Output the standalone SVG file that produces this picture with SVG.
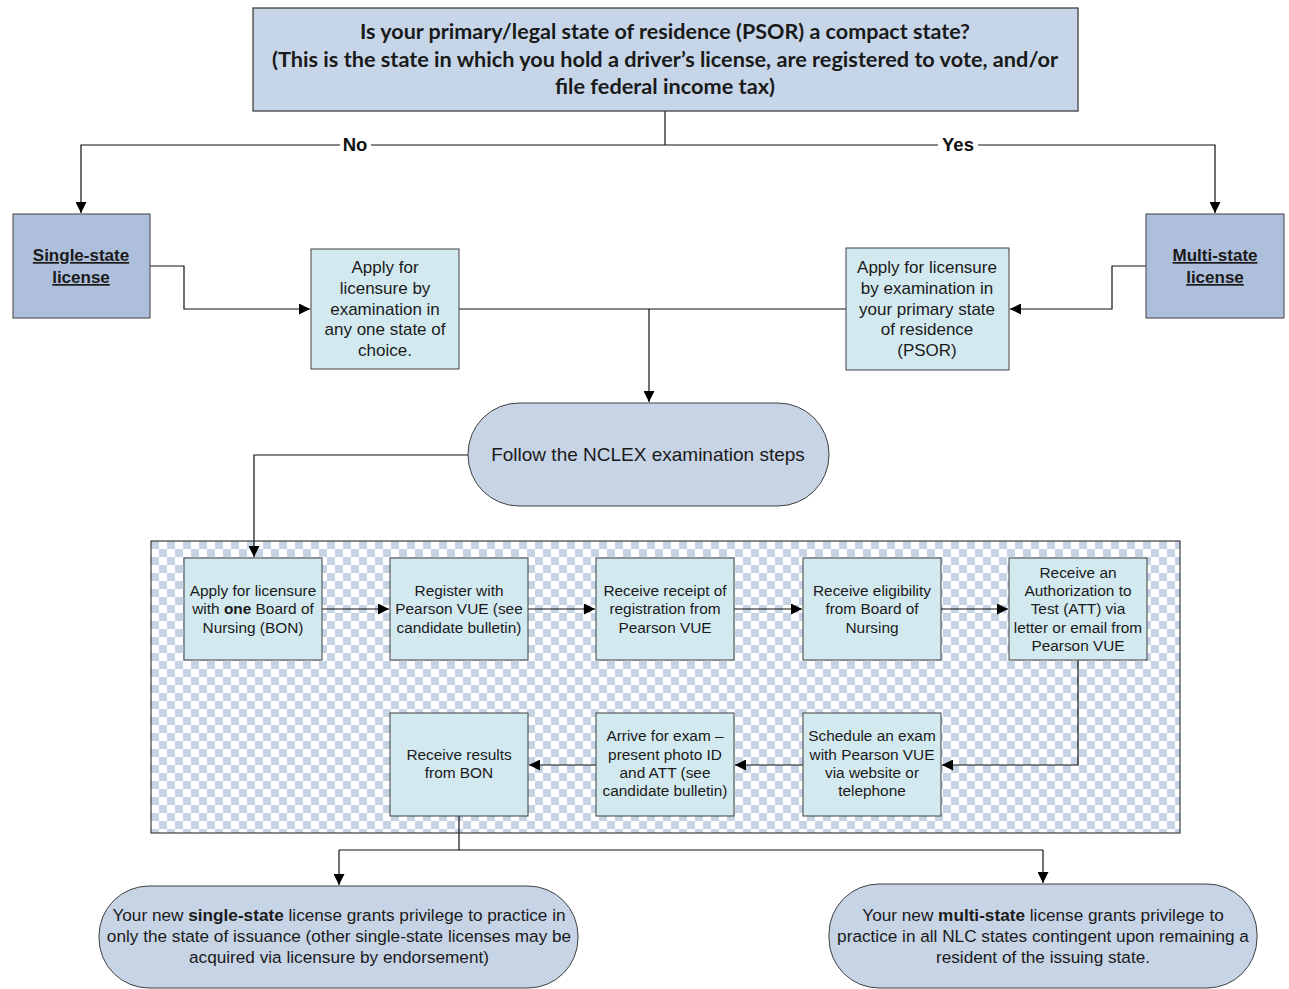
<svg xmlns="http://www.w3.org/2000/svg" width="1289" height="989" viewBox="0 0 1289 989">
<style>
.t{font-family:"Liberation Sans",Arial,sans-serif;fill:#1a1a1a;text-anchor:middle}
.s15{font-size:15.4px}
.s16{font-size:17px}
.hd{font-family:Lato,"Open Sans",sans-serif;font-weight:bold;font-size:21px;fill:#1a1a1a;text-anchor:middle}
.lab{font-family:"Liberation Sans",Arial,sans-serif;font-weight:bold;font-size:18.5px;fill:#111;text-anchor:middle}
.box{fill:#d3e9f0;stroke:#404040;stroke-width:1}
.dk{fill:#aebfdb;stroke:#404040;stroke-width:1}
.hdr{fill:#c6d6e8;stroke:#404040;stroke-width:1.3}
.st{fill:#c7d4e6;stroke:#404040;stroke-width:1}
.c{fill:none;stroke:#111;stroke-width:1.2}
.u{font-weight:bold;text-decoration:underline;font-size:17px}
</style>
<defs>
<marker id="a" viewBox="0 0 10 10" refX="10" refY="5" markerWidth="11" markerHeight="11" markerUnits="userSpaceOnUse" orient="auto">
<path d="M0,0 L10,5 L0,10 z" fill="#000"/>
</marker>
<pattern id="chk" width="16" height="16" patternUnits="userSpaceOnUse" x="151" y="541">
<rect width="16" height="16" fill="#ffffff"/>
<rect width="8" height="8" fill="#c6d3e4"/>
<rect x="8" y="8" width="8" height="8" fill="#c6d3e4"/>
</pattern>
</defs>
<rect width="1289" height="989" fill="#fff"/>
<rect id="panel" x="151" y="541" width="1029" height="292" fill="url(#chk)" stroke="#404040" stroke-width="1.2"/>

<g id="connectors">
<path class="c" d="M665,111 V145"/>
<path class="c" d="M340,145 H81 V213" marker-end="url(#a)"/>
<path class="c" d="M371,145 H938"/>
<path class="c" d="M978,145 H1215 V213" marker-end="url(#a)"/>
<path class="c" d="M150,266 H184 V309 H310" marker-end="url(#a)"/>
<path class="c" d="M1146,266 H1112 V309 H1010" marker-end="url(#a)"/>
<path class="c" d="M459,309 H846"/>
<path class="c" d="M649,309 V402" marker-end="url(#a)"/>
<path class="c" d="M468,455 H254 V557" marker-end="url(#a)"/>
<path class="c" d="M322,609 H389" marker-end="url(#a)"/>
<path class="c" d="M528,609 H595" marker-end="url(#a)"/>
<path class="c" d="M734,609 H802" marker-end="url(#a)"/>
<path class="c" d="M941,609 H1008" marker-end="url(#a)"/>
<path class="c" d="M1078,660 V765 H942" marker-end="url(#a)"/>
<path class="c" d="M803,765 H735" marker-end="url(#a)"/>
<path class="c" d="M596,765 H529" marker-end="url(#a)"/>
<path class="c" d="M459,816 V850"/>
<path class="c" d="M339,850 H1043"/>
<path class="c" d="M339,850 V885" marker-end="url(#a)"/>
<path class="c" d="M1043,850 V883" marker-end="url(#a)"/>
<text class="lab" x="355" y="151">No</text>
<text class="lab" x="958" y="151">Yes</text>
</g>

<g id="n-question">
<rect class="hdr" x="253" y="8" width="825" height="103"/>
<text class="hd" x="665" y="39" textLength="610" lengthAdjust="spacingAndGlyphs">Is your primary/legal state of residence (PSOR) a compact state?</text>
<text class="hd" x="665" y="67" textLength="786" lengthAdjust="spacingAndGlyphs">(This is the state in which you hold a driver’s license, are registered to vote, and/or</text>
<text class="hd" x="665" y="94" textLength="220" lengthAdjust="spacingAndGlyphs">file federal income tax)</text>
</g>

<g id="n-single">
<rect class="dk" x="13" y="214" width="137" height="104"/>
<text class="t u" x="81" y="261">Single-state</text>
<text class="t u" x="81" y="283">license</text>
</g>

<g id="n-multi">
<rect class="dk" x="1146" y="214" width="138" height="104"/>
<text class="t u" x="1215" y="261">Multi-state</text>
<text class="t u" x="1215" y="283">license</text>
</g>

<g id="n-apply-any">
<rect class="box" x="311" y="249" width="148" height="120"/>
<text class="t s16" x="385" y="273">Apply for</text>
<text class="t s16" x="385" y="294">licensure by</text>
<text class="t s16" x="385" y="315">examination in</text>
<text class="t s16" x="385" y="335">any one state of</text>
<text class="t s16" x="385" y="356">choice.</text>
</g>

<g id="n-apply-psor">
<rect class="box" x="846" y="248" width="163" height="122"/>
<text class="t s16" x="927" y="273">Apply for licensure</text>
<text class="t s16" x="927" y="294">by examination in</text>
<text class="t s16" x="927" y="315">your primary state</text>
<text class="t s16" x="927" y="335">of residence</text>
<text class="t s16" x="927" y="356">(PSOR)</text>
</g>

<g id="n-nclex">
<rect class="st" x="468" y="403" width="361" height="103" rx="51" ry="51"/>
<text class="t" x="648" y="461" font-size="19">Follow the NCLEX examination steps</text>
</g>

<g id="n-s1">
<rect class="box" x="184" y="558" width="138" height="102"/>
<text class="t s15" x="253" y="596">Apply for licensure</text>
<text class="t s15" x="253" y="614">with <tspan font-weight="bold">one</tspan> Board of</text>
<text class="t s15" x="253" y="633">Nursing (BON)</text>
</g>

<g id="n-s2">
<rect class="box" x="390" y="558" width="138" height="102"/>
<text class="t s15" x="459" y="596">Register with</text>
<text class="t s15" x="459" y="614">Pearson VUE (see</text>
<text class="t s15" x="459" y="633">candidate bulletin)</text>
</g>

<g id="n-s3">
<rect class="box" x="596" y="558" width="138" height="102"/>
<text class="t s15" x="665" y="596">Receive receipt of</text>
<text class="t s15" x="665" y="614">registration from</text>
<text class="t s15" x="665" y="633">Pearson VUE</text>
</g>

<g id="n-s4">
<rect class="box" x="803" y="558" width="138" height="102"/>
<text class="t s15" x="872" y="596">Receive eligibility</text>
<text class="t s15" x="872" y="614">from Board of</text>
<text class="t s15" x="872" y="633">Nursing</text>
</g>

<g id="n-s5">
<rect class="box" x="1009" y="558" width="138" height="102"/>
<text class="t s15" x="1078" y="578">Receive an</text>
<text class="t s15" x="1078" y="596">Authorization to</text>
<text class="t s15" x="1078" y="614">Test (ATT) via</text>
<text class="t s15" x="1078" y="633">letter or email from</text>
<text class="t s15" x="1078" y="651">Pearson VUE</text>
</g>

<g id="n-s6">
<rect class="box" x="803" y="713" width="138" height="103"/>
<text class="t s15" x="872" y="741">Schedule an exam</text>
<text class="t s15" x="872" y="760">with Pearson VUE</text>
<text class="t s15" x="872" y="778">via website or</text>
<text class="t s15" x="872" y="796">telephone</text>
</g>

<g id="n-s7">
<rect class="box" x="596" y="713" width="138" height="103"/>
<text class="t s15" x="665" y="741">Arrive for exam –</text>
<text class="t s15" x="665" y="760">present photo ID</text>
<text class="t s15" x="665" y="778">and ATT (see</text>
<text class="t s15" x="665" y="796">candidate bulletin)</text>
</g>

<g id="n-s8">
<rect class="box" x="390" y="713" width="138" height="103"/>
<text class="t s15" x="459" y="760">Receive results</text>
<text class="t s15" x="459" y="778">from BON</text>
</g>

<g id="n-single-result">
<rect class="st" x="99" y="886" width="479" height="102" rx="50" ry="50"/>
<text class="t" font-size="17.2" x="339" y="921">Your new <tspan font-weight="bold">single-state</tspan> license grants privilege to practice in</text>
<text class="t" font-size="17.2" x="339" y="942">only the state of issuance (other single-state licenses may be</text>
<text class="t" font-size="17.2" x="339" y="963">acquired via licensure by endorsement)</text>
</g>

<g id="n-multi-result">
<rect class="st" x="829" y="884" width="428" height="104" rx="50" ry="50"/>
<text class="t" font-size="17.2" x="1043" y="921">Your new <tspan font-weight="bold">multi-state</tspan> license grants privilege to</text>
<text class="t" font-size="17.2" x="1043" y="942">practice in all NLC states contingent upon remaining a</text>
<text class="t" font-size="17.2" x="1043" y="963">resident of the issuing state.</text>
</g>
</svg>
